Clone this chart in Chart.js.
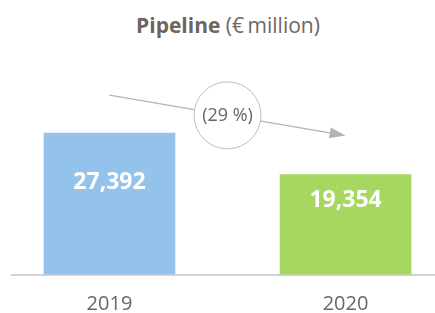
<!DOCTYPE html>
<html>
<head>
<meta charset="utf-8">
<script src="https://cdn.jsdelivr.net/npm/chart.js@4/dist/chart.umd.min.js"></script>
<style>
    html, body { margin: 0; padding: 0; background: #fff; }
    #wrap { position: relative; width: 435px; height: 313px; }
    #title {
        position: absolute; left: 0; top: 11px; width: 456px;
        text-align: center; font-family: "Open Sans", sans-serif;
        font-size: 21px; color: #6e655f; white-space: nowrap;
    }
    #title b { font-weight: 700; }
    canvas { position: absolute; left: 0; top: 0; }
</style>
</head>
<body>
<div id="wrap">
    <div id="title"><b>Pipeline</b> (€&#8201;million)</div>
    <canvas id="chart" width="435" height="313"></canvas>
</div>
<script>
// данные графика
const years = ['2019', '2020'];
const pipeline = [27392, 19354];
const barColors = ['#93c2ea', '#a6d75f'];

const textGray = '#6e655f';
const arrowGray = '#b4b4b4';
const labelOffsets = [49, 26]; // отступ подписи от верха столбца

const formatNumber = (v) => v.toLocaleString('en-US');

// подписи внутри столбцов
const valueLabels = {
    id: 'valueLabels',
    afterDatasetsDraw(chart) {
        const ctx = chart.ctx;
        const meta = chart.getDatasetMeta(0);
        ctx.save();
        ctx.fillStyle = '#fff';
        ctx.font = 'bold 23px "Open Sans"';
        ctx.textAlign = 'center';
        ctx.textBaseline = 'middle';
        meta.data.forEach((bar, i) => {
            ctx.fillText(formatNumber(pipeline[i]), bar.x, bar.y + labelOffsets[i]);
        });
        ctx.restore();
    }
};

// стрелка с кружком изменения
const changeArrow = {
    id: 'changeArrow',
    afterDatasetsDraw(chart) {
        const ctx = chart.ctx;
        const bars = chart.getDatasetMeta(0).data;
        const x1 = bars[0].x, y1 = bars[0].y - 38;
        const x2 = bars[1].x, y2 = bars[1].y - 39;
        const angle = Math.atan2(y2 - y1, x2 - x1);
        const head = 16;
        ctx.save();
        ctx.strokeStyle = arrowGray;
        ctx.fillStyle = arrowGray;
        ctx.lineWidth = 1.2;
        ctx.beginPath();
        ctx.moveTo(x1, y1);
        ctx.lineTo(x2 - head * Math.cos(angle), y2 - head * Math.sin(angle));
        ctx.stroke();
        ctx.beginPath();
        ctx.moveTo(x2, y2);
        ctx.lineTo(x2 - head * Math.cos(angle) - 5.5 * Math.sin(angle), y2 - head * Math.sin(angle) + 5.5 * Math.cos(angle));
        ctx.lineTo(x2 - head * Math.cos(angle) + 5.5 * Math.sin(angle), y2 - head * Math.sin(angle) - 5.5 * Math.cos(angle));
        ctx.closePath();
        ctx.fill();

        const cx = (x1 + x2) / 2, cy = (y1 + y2) / 2;
        ctx.beginPath();
        ctx.arc(cx, cy, 33.5, 0, Math.PI * 2);
        ctx.fillStyle = '#fff';
        ctx.fill();
        ctx.lineWidth = 1;
        ctx.strokeStyle = '#bdbdbd';
        ctx.stroke();

        const change = Math.round((pipeline[1] - pipeline[0]) / pipeline[0] * 100);
        const txt = change < 0 ? '(' + Math.abs(change) + ' %)' : change + ' %';
        ctx.fillStyle = textGray;
        ctx.font = '18px "Open Sans"';
        ctx.textAlign = 'center';
        ctx.textBaseline = 'middle';
        ctx.fillText(txt, cx, cy + 1);
        ctx.restore();
    }
};

new Chart(document.getElementById('chart'), {
    type: 'bar',
    data: {
        datasets: [{
            data: pipeline.map((v, i) => ({ x: i, y: v })),
            backgroundColor: barColors,
            barThickness: 131,
            borderWidth: 0
        }]
    },
    options: {
        responsive: false,
        animation: false,
        events: [],
        layout: { padding: { top: 68, left: 12, right: 0, bottom: 0 } },
        plugins: {
            legend: { display: false },
            tooltip: { enabled: false }
        },
        scales: {
            x: {
                type: 'linear',
                offset: false,
                min: -0.413,
                max: 1.379,
                grid: { display: false, drawTicks: false, offset: false },
                border: { display: true, color: '#d2d2d2', width: 2 },
                afterBuildTicks(scale) {
                    scale.ticks = years.map((_, i) => ({ value: i }));
                },
                afterFit(scale) { scale.height = 38.5; },
                ticks: {
                    padding: 18,
                    color: textGray,
                    font: { family: 'Open Sans', size: 20 },
                    callback: (v) => years[v]
                }
            },
            y: {
                display: false,
                min: 0,
                max: 40000
            }
        }
    },
    plugins: [valueLabels, changeArrow]
});
</script>
</body>
</html>
